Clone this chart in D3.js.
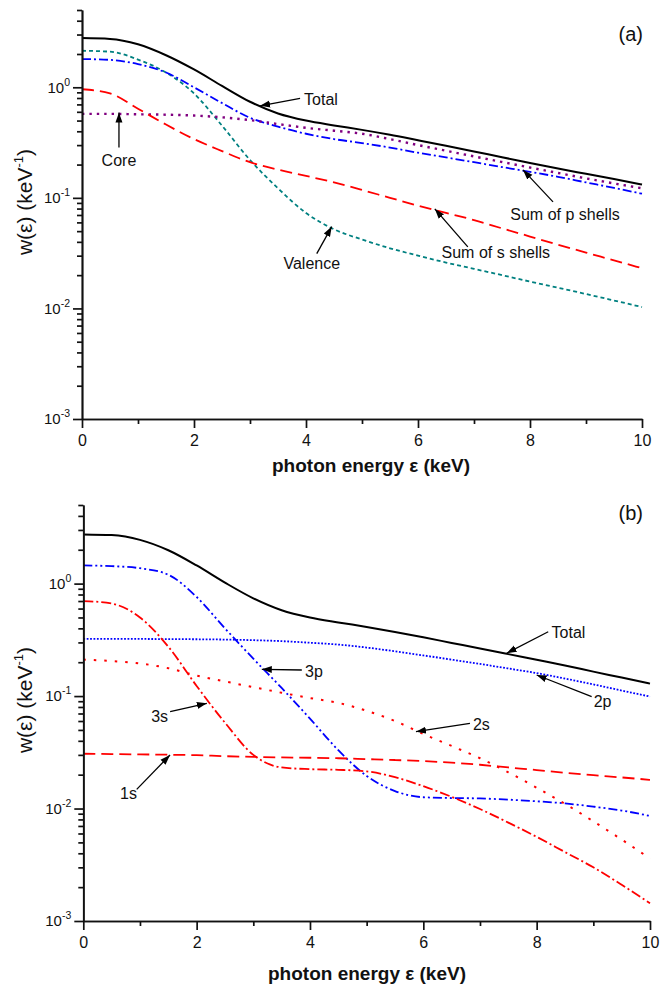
<!DOCTYPE html>
<html>
<head>
<meta charset="utf-8">
<script src="https://cdn.jsdelivr.net/npm/d3@7"></script>
<style>
  body { margin: 0; background: #fff; }
  svg { display: block; }
  text { font-family: "Liberation Sans", Arial, sans-serif; }
</style>
</head>
<body>
<div id="chart"></div>
<script>
// photon energy grid (keV)
const energy = [0, 0.5, 1, 1.5, 2, 2.5, 3, 3.5, 4, 4.5, 5, 5.5, 6, 6.5, 7, 7.5, 8, 8.5, 9, 9.5, 10]

// panel (a)
const totalA  = [2.79, 2.74, 2.45, 1.95, 1.45, 1.03, 0.74, 0.58, 0.50, 0.452, 0.412, 0.372, 0.332, 0.296, 0.263, 0.233, 0.207, 0.184, 0.165, 0.148, 0.132]
const valence = [2.14, 2.1, 1.78, 1.36, 0.88, 0.45, 0.22, 0.122, 0.073, 0.052, 0.042, 0.035, 0.030, 0.026, 0.0228, 0.0200, 0.0175, 0.0154, 0.0135, 0.0118, 0.0103]
const sumP    = [1.80, 1.77, 1.62, 1.36, 1.0, 0.72, 0.53, 0.44, 0.38, 0.34, 0.313, 0.285, 0.256, 0.232, 0.21, 0.19, 0.172, 0.155, 0.138, 0.123, 0.109]
const core    = [0.575, 0.575, 0.57, 0.565, 0.555, 0.535, 0.505, 0.465, 0.43, 0.405, 0.38, 0.34, 0.30, 0.267, 0.237, 0.211, 0.188, 0.168, 0.15, 0.135, 0.122]
const sumS    = [0.96, 0.88, 0.64, 0.46, 0.34, 0.265, 0.21, 0.18, 0.158, 0.138, 0.118, 0.10, 0.085, 0.073, 0.063, 0.053, 0.0447, 0.0377, 0.032, 0.0272, 0.0231]

// panel (b)
const totalB = [2.74, 2.7, 2.45, 1.98, 1.45, 1.02, 0.74, 0.58, 0.50, 0.452, 0.412, 0.372, 0.333, 0.297, 0.265, 0.236, 0.21, 0.187, 0.165, 0.146, 0.129]
const p2 = [0.322, 0.322, 0.322, 0.321, 0.32, 0.318, 0.314, 0.308, 0.298, 0.287, 0.27, 0.25, 0.23, 0.211, 0.193, 0.176, 0.16, 0.143, 0.127, 0.112, 0.099]
const p3 = [1.45, 1.43, 1.37, 1.2, 0.76, 0.40, 0.215, 0.118, 0.063, 0.033, 0.0195, 0.0143, 0.0126, 0.0124, 0.0123, 0.012, 0.0116, 0.0111, 0.0104, 0.0096, 0.0086]
const s3 = [0.70, 0.665, 0.50, 0.275, 0.123, 0.058, 0.030, 0.0232, 0.0224, 0.0221, 0.0214, 0.019, 0.0158, 0.0127, 0.0099, 0.0075, 0.0056, 0.0041, 0.0030, 0.0021, 0.00144]
const s2 = [0.211, 0.205, 0.195, 0.177, 0.152, 0.135, 0.12, 0.107, 0.096, 0.087, 0.074, 0.06, 0.046, 0.036, 0.028, 0.021, 0.0153, 0.011, 0.0077, 0.0053, 0.0036]
const s1 = [0.0307, 0.0305, 0.0303, 0.0301, 0.0298, 0.0292, 0.0288, 0.0285, 0.0283, 0.028, 0.0275, 0.027, 0.0264, 0.0256, 0.0245, 0.0232, 0.022, 0.0208, 0.0198, 0.0189, 0.018]

const xMajorTicks = [0, 2, 4, 6, 8, 10]
const xMinorTicks = [1, 3, 5, 7, 9]
const yMajorTicks = [1e-3, 1e-2, 1e-1, 1]
const yMinorTicks = [2e-3, 3e-3, 4e-3, 5e-3, 6e-3, 7e-3, 8e-3, 9e-3,
  2e-2, 3e-2, 4e-2, 5e-2, 6e-2, 7e-2, 8e-2, 9e-2,
  0.2, 0.3, 0.4, 0.5, 0.6, 0.7, 0.8, 0.9, 2, 3, 4, 5]

const width = 660, height = 987

const svg = d3.select('#chart').append('svg')
  .attr('width', width)
  .attr('height', height)

svg.append('defs').append('marker')
  .attr('id', 'arrow')
  .attr('viewBox', '0 0 10 10')
  .attr('refX', 10).attr('refY', 5)
  .attr('markerWidth', 10).attr('markerHeight', 10)
  .attr('markerUnits', 'userSpaceOnUse')
  .attr('orient', 'auto')
  .append('path')
    .attr('d', 'M0,1.5 L10,5 L0,8.5 Z')
    .attr('fill', '#000')

const panels = [
  {
    label: '(a)', left: 82, right: 642, top: 10, bottom: 419,
    titleX: 371, titleY: 472, yTitleY: 202, labelY: 41,
    series: [
      { values: totalA, color: '#000', dash: null, width: 2 },
      { values: valence, color: '#008080', dash: '4,3' },
      { values: sumP, color: '#0000ff', dash: '9,3,2,3' },
      { values: core, color: '#800080', dash: '2.4,5', width: 2.4 },
      { values: sumS, color: '#ff0000', dash: '12,6' }
    ],
    notes: [
      { text: 'Total', x: 3.18, v: 0.68, tail: [40, -7.5], at: [44, -0.5], anchor: 'start' },
      { text: 'Core', x: 0.66, v: 0.59, tail: [0, 35], at: [0, 53], anchor: 'middle' },
      { text: 'Valence', x: 4.46, v: 0.055, tail: [-15, 27], at: [-20, 42], anchor: 'middle' },
      { text: 'Sum of s shells', x: 6.30, v: 0.0795, tail: [33, 38], at: [61, 49.5], anchor: 'middle' },
      { text: 'Sum of p shells', x: 7.875, v: 0.179, tail: [30, 32], at: [42, 50], anchor: 'middle' }
    ]
  },
  {
    label: '(b)', left: 83.3, right: 650, top: 505, bottom: 921,
    titleX: 367, titleY: 980, yTitleY: 700, labelY: 520,
    series: [
      { values: totalB, color: '#000', dash: null, width: 2 },
      { values: p2, color: '#0000ff', dash: '1.8,1.6' },
      { values: p3, color: '#0000ff', dash: '9,3,2,3,2,3' },
      { values: s2, color: '#ff0000', dash: '2.5,8', width: 2 },
      { values: s3, color: '#ff0000', dash: '10,3,2,3' },
      { values: s1, color: '#ff0000', dash: '12,6' }
    ],
    notes: [
      { text: 'Total', x: 7.47, v: 0.240, tail: [41.6, -21.6], at: [45, -15.5], anchor: 'start' },
      { text: '2p', x: 8.0, v: 0.154, tail: [55, 21.7], at: [57, 31.7], anchor: 'start' },
      { text: '2s', x: 5.87, v: 0.0482, tail: [54, -8.4], at: [57, -1.7], anchor: 'start' },
      { text: '3p', x: 3.15, v: 0.173, tail: [40, 0.7], at: [43.3, 7.4], anchor: 'start' },
      { text: '3s', x: 2.18, v: 0.0863, tail: [-36.7, 8.4], at: [-38.7, 18.4], anchor: 'end' },
      { text: '1s', x: 1.53, v: 0.0299, tail: [-33.3, 34.3], at: [-33, 44.3], anchor: 'end' }
    ]
  }
]

function drawPanel(p) {
  const x = d3.scaleLinear().domain([0, 10]).range([p.left, p.right])
  const y = d3.scaleLog().domain([1e-3, 5]).range([p.bottom, p.top])
  const g = svg.append('g')

  const line = d3.line()
    .x((d, i) => x(energy[i]))
    .y(d => y(d))
    .curve(d3.curveMonotoneX)

  p.series.forEach(s => {
    g.append('path')
      .attr('d', line(s.values))
      .attr('fill', 'none')
      .attr('stroke', s.color)
      .attr('stroke-width', s.width || 1.8)
      .attr('stroke-dasharray', s.dash)
  })

  // x axis: minor then major
  g.append('g')
    .attr('transform', `translate(0,${p.bottom})`)
    .call(d3.axisBottom(x).tickValues(xMinorTicks).tickSize(5).tickSizeOuter(0).tickFormat(''))
  const xa = g.append('g')
    .attr('transform', `translate(0,${p.bottom})`)
    .call(d3.axisBottom(x).tickValues(xMajorTicks).tickSize(9).tickSizeOuter(0).tickPadding(7))
  xa.selectAll('text').attr('font-size', 16).attr('fill', '#111')

  // y axis
  g.append('g')
    .attr('transform', `translate(${p.left},0)`)
    .call(d3.axisLeft(y).tickValues(yMinorTicks).tickSize(5).tickSizeOuter(0).tickFormat(''))
  const ya = g.append('g')
    .attr('transform', `translate(${p.left},0)`)
    .call(d3.axisLeft(y).tickValues(yMajorTicks).tickSize(9).tickSizeOuter(0).tickPadding(3))
  ya.selectAll('text')
    .attr('font-size', 15)
    .attr('fill', '#111')
    .each(function (d) {
      const t = d3.select(this).text(null)
      t.append('tspan').text('10')
      t.append('tspan').attr('dy', -7).attr('font-size', 10.5).text(Math.round(Math.log10(d)))
    })

  g.selectAll('.domain, .tick line')
    .attr('stroke', '#111')
    .attr('stroke-width', 1.7)

  // annotations
  p.notes.forEach(n => {
    const tx = x(n.x), ty = y(n.v)
    g.append('line')
      .attr('x1', tx + n.tail[0]).attr('y1', ty + n.tail[1])
      .attr('x2', tx).attr('y2', ty)
      .attr('stroke', '#000')
      .attr('stroke-width', 1.3)
      .attr('marker-end', 'url(#arrow)')
    g.append('text')
      .attr('x', tx + n.at[0]).attr('y', ty + n.at[1])
      .attr('text-anchor', n.anchor)
      .attr('font-size', 16)
      .attr('fill', '#111')
      .text(n.text)
  })

  // titles
  g.append('text')
    .attr('x', p.titleX).attr('y', p.titleY)
    .attr('text-anchor', 'middle')
    .attr('font-size', 19)
    .attr('font-weight', 'bold')
    .attr('fill', '#111')
    .text('photon energy ε (keV)')

  const yt = g.append('text')
    .attr('transform', `translate(32,${p.yTitleY}) rotate(-90)`)
    .attr('text-anchor', 'middle')
    .attr('font-size', 21)
    .attr('fill', '#111')
  yt.append('tspan').text('w(ε) (keV')
  yt.append('tspan').attr('dy', -9).attr('font-size', 13).text('-1')
  yt.append('tspan').attr('dy', 9).text(')')

  g.append('text')
    .attr('x', 643).attr('y', p.labelY)
    .attr('text-anchor', 'end')
    .attr('font-size', 20)
    .attr('fill', '#111')
    .text(p.label)
}

panels.forEach(drawPanel)
</script>
</body>
</html>
